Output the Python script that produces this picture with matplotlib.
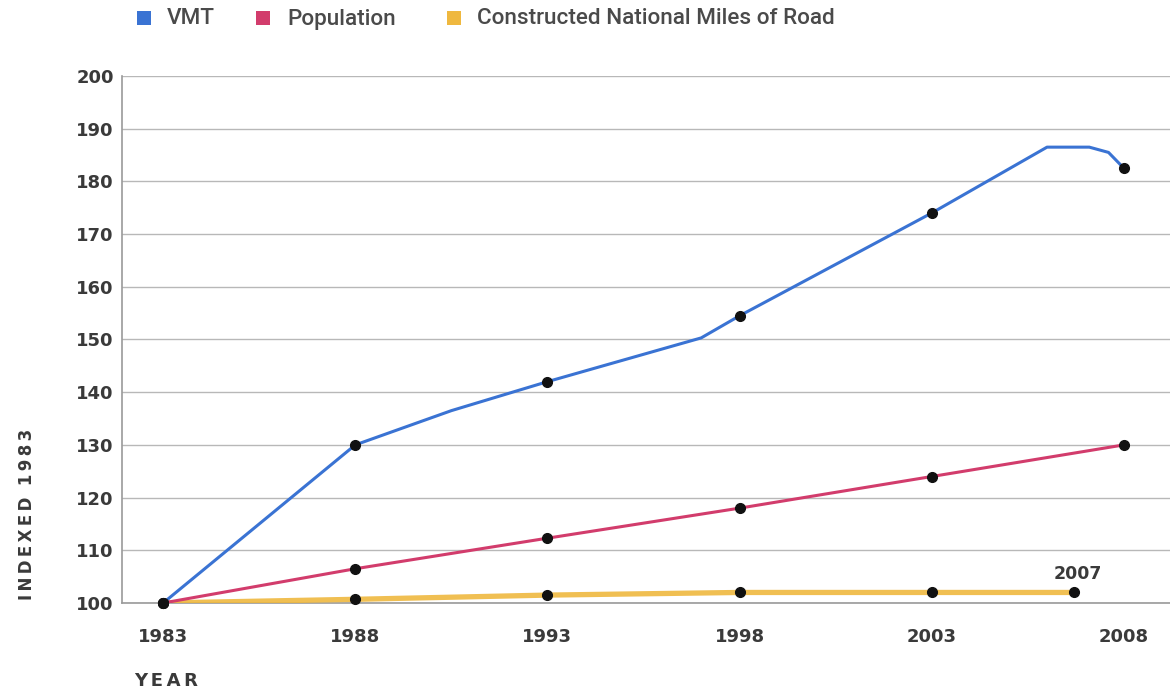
import matplotlib
matplotlib.use("Agg")
import matplotlib.pyplot as plt
from matplotlib.patches import Rectangle

# ---- data ----
vmt_years = [1983, 1988, 1990.5, 1993, 1997, 1998, 2003, 2006, 2007.1, 2007.6, 2008]
vmt_values = [100, 130, 136.5, 142, 150.3, 154.5, 174, 186.5, 186.5, 185.5, 182.5]
vmt_marker_years = [1983, 1988, 1993, 1998, 2003, 2008]
vmt_marker_values = [100, 130, 142, 154.5, 174, 182.5]

pop_years = [1983, 1988, 1993, 1998, 2003, 2008]
pop_values = [100, 106.5, 112.3, 118, 124, 130]

road_years = [1983, 1988, 1993, 1998, 2003, 2006.7]
road_values = [100, 100.7, 101.5, 102, 102, 102]
road_end_label = "2007"

x_ticks = [1983, 1988, 1993, 1998, 2003, 2008]
y_ticks = [100, 110, 120, 130, 140, 150, 160, 170, 180, 190, 200]
legend_labels = ["VMT", "Population", "Constructed National Miles of Road"]

c_vmt = "#3a73d3"
c_pop = "#d23c6c"
c_road = "#efb83f"
txt = "#3a3a3a"

plt.rcParams["font.family"] = ["DejaVu Sans"]

W, H = 1170, 694
fig = plt.figure(figsize=(W/100, H/100), dpi=100)
ax = fig.add_axes([122/W, 1-603/H, (W-122)/W, (603-76)/H])

ax.set_xlim(1981.93, 2009.2)
ax.set_ylim(100, 200)

ax.plot(road_years, road_values, color=c_road, lw=3.8, solid_capstyle="butt", zorder=3, alpha=0.9)
ax.plot(pop_years, pop_values, color=c_pop, lw=2.2, zorder=4)
ax.plot(vmt_years, vmt_values, color=c_vmt, lw=2.2, zorder=5)

for xs, ys in [(road_years, road_values), (pop_years, pop_values),
               (vmt_marker_years, vmt_marker_values)]:
    ax.plot(xs, ys, "o", color="#111111", ms=7, zorder=6, clip_on=False)

ax.text(road_years[-1] + 0.1, 103.8, road_end_label, ha="center", va="bottom", fontsize=12.5,
        fontweight="bold", color=txt)

ax.set_xticks(x_ticks)
ax.set_xticklabels([str(x) for x in x_ticks])
ax.set_yticks(y_ticks)
ax.tick_params(length=0, labelsize=13, labelcolor=txt)
ax.tick_params(axis="x", pad=18)
ax.tick_params(axis="y", pad=6)
for lab in ax.get_xticklabels() + ax.get_yticklabels():
    lab.set_fontweight("bold")

ax.grid(axis="y", color="#b8b8b8", lw=1)
ax.set_axisbelow(True)
for s in ["top", "right"]:
    ax.spines[s].set_visible(False)
for s in ["left", "bottom"]:
    ax.spines[s].set_color("#9a9a9a")
    ax.spines[s].set_linewidth(1.2)

ts = "\u2009"
fig.text(27/W, 1-514/H, ts.join("INDEXED") + "  " + ts.join("1983"), rotation=90,
         ha="center", va="center", fontsize=12, fontweight="bold", color=txt)
fig.text(134/W, 1-681/H, ts.join("YEAR"), ha="left", va="center",
         fontsize=13, fontweight="bold", color=txt)

# legend
sq_x = [137, 256, 447]
tx_x = [167, 287, 477]
for c, sx, tx, lab in zip((c_vmt, c_pop, c_road), sq_x, tx_x, legend_labels):
    fig.patches.append(Rectangle((sx/W, 1-25/H), 14/W, 14/H, transform=fig.transFigure,
                                 facecolor=c, edgecolor="none"))
    fig.text(tx/W, 1-19/H, lab, ha="left", va="center", fontsize=16.2,
             family=["Roboto", "DejaVu Sans"], fontweight="medium", color="#4a4a4a")

fig.savefig("out.png", dpi=100)
